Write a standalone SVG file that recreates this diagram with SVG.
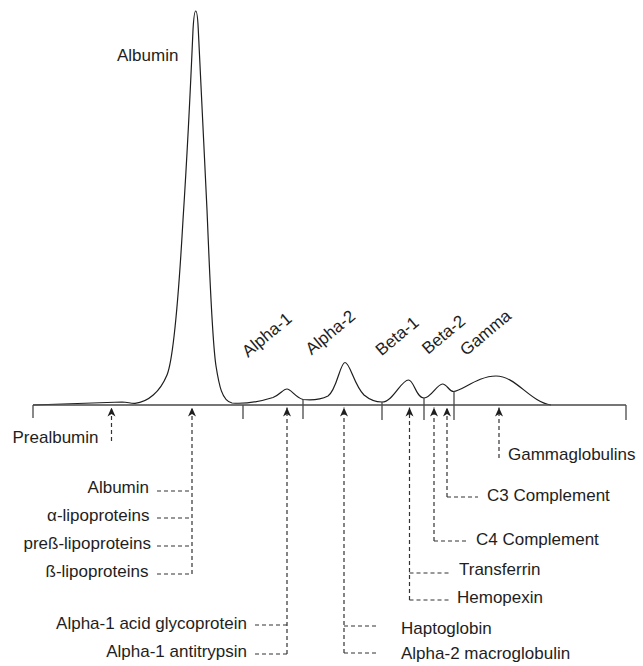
<svg xmlns="http://www.w3.org/2000/svg" width="643" height="666" viewBox="0 0 643 666">
<defs>
<style>
text{font-family:"Liberation Sans",Arial,sans-serif;font-size:17px;fill:#1e1e1e}
.r{text-anchor:end}
.curve{fill:none;stroke:#1e1e1e;stroke-width:1.2}
.axis{fill:none;stroke:#4a4a4a;stroke-width:1.3}
.dash{fill:none;stroke:#333;stroke-width:1.2;stroke-dasharray:4 3}
.arr{marker-end:url(#ah)}
</style>
<marker id="ah" viewBox="-10 -5 10 10" refX="0" refY="0" markerWidth="10" markerHeight="10" orient="auto" markerUnits="userSpaceOnUse">
<path d="M0,0 L-9,-4 L-6.5,0 L-9,4 z" fill="#1e1e1e"/>
</marker>
</defs>
<rect width="643" height="666" fill="#fff"/>

<g id="densitogram">
<path class="curve" d="M33,405 C70,404 105,402.5 122,402 C128,402 130,403.6 135,403.4 C148,402 160,392 167,375 C174,358 179,290 183,220 C187.5,150 191.5,65 193,30 C193.8,16 194.7,11 195.7,11 C196.7,11 197.6,16 198.2,28 C200,60 204,150 207,210 C210,280 212,340 216,366 C219,385 222,401 232,403 C245,404 262,401 273,397.5 C280,395 283,389 287,389 C291,389 295,397 303,399.5 C312,400.5 321,399.5 328,396 C337,390 340,362.5 345,362.5 C350,362.5 354,385 364,395 C370,400 375,402 382,402 C393,402 401,380 408.5,380 C414,380 416,398 424,398 C431,398 437,384 442.5,384 C447,384 449,391.5 453.5,391.5 C462,391 478,376 496,376 C516,376 530,402 551,405"/>
</g>

<g id="axis">
<path class="axis" d="M33,405 H626 M33,405 V418 M243,405 V419 M303,399.5 V419 M382,402 V420 M424,398 V420 M454,391.5 V420 M626,405 V420"/>
</g>

<g id="fraction-labels">
<text id="lbl-albumin-peak" x="117" y="60.5">Albumin</text>
<text id="lbl-alpha1" transform="translate(248,358) rotate(-40)">Alpha-1</text>
<text id="lbl-alpha2" transform="translate(311.5,355.5) rotate(-40)">Alpha-2</text>
<text id="lbl-beta1" transform="translate(381.5,356.5) rotate(-40)">Beta-1</text>
<text id="lbl-beta2" transform="translate(428,355) rotate(-40)">Beta-2</text>
<text id="lbl-gamma" transform="translate(466,356.5) rotate(-40)">Gamma</text>
</g>

<g id="connectors">
<path class="dash arr" d="M111.5,441 V407.5"/>
<path class="dash arr" d="M192,574 V407.5"/>
<path class="dash" d="M157,491 H192 M157,518 H192 M157,546 H192 M157,574 H192"/>
<path class="dash arr" d="M287,654 V407.5"/>
<path class="dash" d="M255,625 H287 M255,654 H287"/>
<path class="dash arr" d="M344,653 V407.5"/>
<path class="dash" d="M344,626 H379 M344,653 H379"/>
<path class="dash arr" d="M409.5,600 V407.5"/>
<path class="dash" d="M409.5,573 H449 M409.5,600 H449"/>
<path class="dash arr" d="M434,541 V407.5"/>
<path class="dash" d="M434,541 H466"/>
<path class="dash arr" d="M447,497 V407.5"/>
<path class="dash" d="M447,497 H478"/>
<path class="dash arr" d="M499,458 V407.5"/>
</g>

<g id="node-prealbumin"><text x="12.5" y="443">Prealbumin</text></g>
<g id="node-albumin"><text class="r" x="149" y="493">Albumin</text></g>
<g id="node-alpha-lipoproteins"><text class="r" x="149.5" y="521">α-lipoproteins</text></g>
<g id="node-prebeta-lipoproteins"><text class="r" x="151" y="549">preß-lipoproteins</text></g>
<g id="node-beta-lipoproteins"><text class="r" x="148.5" y="577">ß-lipoproteins</text></g>
<g id="node-a1-acid-glycoprotein"><text class="r" x="247" y="629">Alpha-1 acid glycoprotein</text></g>
<g id="node-a1-antitrypsin"><text class="r" x="247" y="657">Alpha-1 antitrypsin</text></g>
<g id="node-haptoglobin"><text x="401" y="634">Haptoglobin</text></g>
<g id="node-a2-macroglobulin"><text x="401" y="659">Alpha-2 macroglobulin</text></g>
<g id="node-transferrin"><text x="459" y="575">Transferrin</text></g>
<g id="node-hemopexin"><text x="457" y="603">Hemopexin</text></g>
<g id="node-c4"><text x="476" y="545">C4 Complement</text></g>
<g id="node-c3"><text x="487" y="501">C3 Complement</text></g>
<g id="node-gammaglobulins"><text x="508" y="460">Gammaglobulins</text></g>
</svg>
